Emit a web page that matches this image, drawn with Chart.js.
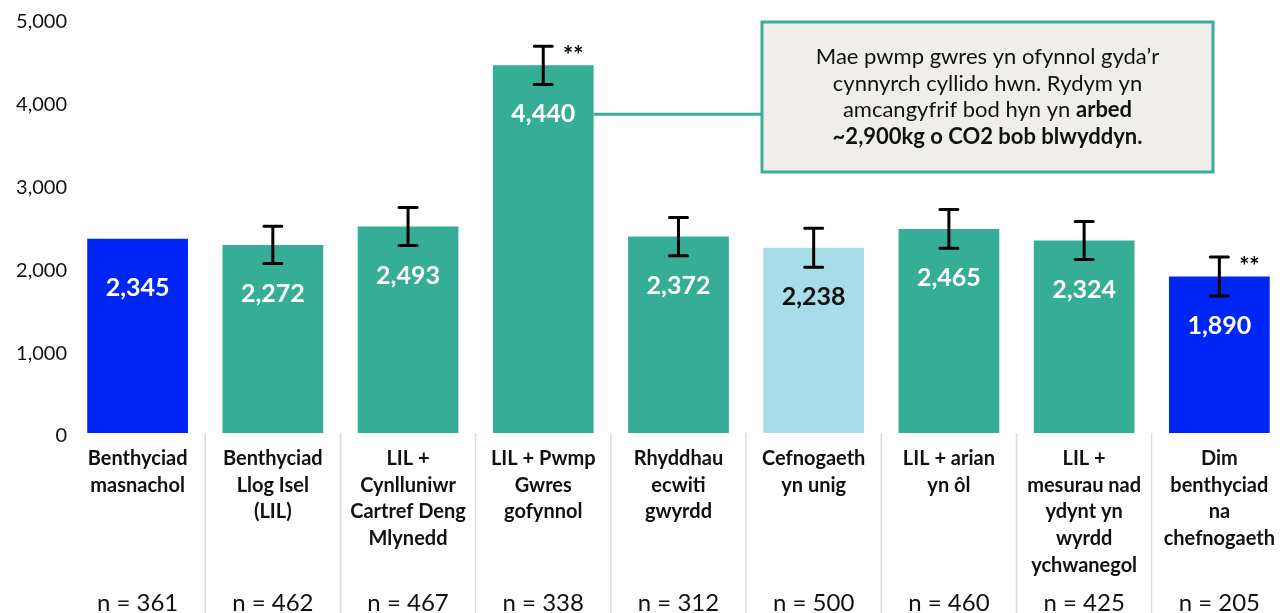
<!DOCTYPE html>
<html>
<head>
<meta charset="utf-8">
<script src="https://cdn.jsdelivr.net/npm/chart.js@4/dist/chart.umd.min.js"></script>
<style>
  html, body { margin: 0; padding: 0; background: #fff; overflow: hidden; }
  #wrap { width: 1287px; height: 613px; position: relative; }
</style>
</head>
<body>
<div id="wrap"><canvas id="costChart"></canvas></div>
<script>
/* data */
const categories = [
    ['Benthyciad', 'masnachol'],
    ['Benthyciad', 'Llog Isel', '(LIL)'],
    ['LIL +', 'Cynlluniwr', 'Cartref Deng', 'Mlynedd'],
    ['LIL + Pwmp', 'Gwres', 'gofynnol'],
    ['Rhyddhau', 'ecwiti', 'gwyrdd'],
    ['Cefnogaeth', 'yn unig'],
    ['LIL + arian', 'yn ôl'],
    ['LIL +', 'mesurau nad', 'ydynt yn', 'wyrdd', 'ychwanegol'],
    ['Dim', 'benthyciad', 'na', 'chefnogaeth']
];
const values = [2345, 2272, 2493, 4440, 2372, 2238, 2465, 2324, 1890];
const errors = [null, 225, 230, 230, 230, 235, 235, 230, 235];
const sampleSizes = [361, 462, 467, 338, 312, 500, 460, 425, 205];
const significant = [false, false, false, true, false, false, false, false, true];
const yTicks = [0, 1000, 2000, 3000, 4000, 5000];
const noteLines = [
    [['Mae pwmp gwres yn ofynnol gyda\u2019r', false]],
    [['cynnyrch cyllido hwn. Rydym yn', false]],
    [['amcangyfrif bod hyn yn ', false], ['arbed', true]],
    [['~2,900kg o CO2 bob blwyddyn.', true]]
];

const FONT = 'Lato, "Open Sans", sans-serif';
const TEAL = '#35ad97';
const BLUE = '#0026f5';
const LIGHT = '#a7dde8';
const barColors = [BLUE, TEAL, TEAL, TEAL, TEAL, LIGHT, TEAL, TEAL, BLUE];
const labelColors = ['#fff', '#fff', '#fff', '#fff', '#fff', '#111', '#fff', '#fff', '#fff'];

/* separators under the axis, between categories */
const separators = {
    id: 'separators',
    beforeDatasetsDraw(chart) {
        const x = chart.scales.x, ctx = chart.ctx;
        ctx.save();
        ctx.strokeStyle = '#e2dbd5';
        ctx.lineWidth = 1.5;
        for (let i = 0; i < categories.length - 1; i++) {
            const px = (x.getPixelForValue(i) + x.getPixelForValue(i + 1)) / 2;
            ctx.beginPath();
            ctx.moveTo(px, chart.chartArea.bottom);
            ctx.lineTo(px, chart.height);
            ctx.stroke();
        }
        ctx.restore();
    }
};

/* error bars, value labels, stars, n counts */
const extras = {
    id: 'extras',
    afterDatasetsDraw(chart) {
        const ctx = chart.ctx, x = chart.scales.x, y = chart.scales.y;
        const meta = chart.getDatasetMeta(0);
        ctx.save();
        meta.data.forEach((bar, i) => {
            const cx = bar.x;
            // value label
            ctx.fillStyle = labelColors[i];
            ctx.font = 'bold 25px ' + FONT;
            ctx.textAlign = 'center';
            ctx.textBaseline = 'middle';
            ctx.fillText(values[i].toLocaleString('en-GB'), cx, bar.y + 49);
            // error bar
            if (errors[i] != null) {
                const top = y.getPixelForValue(values[i] + errors[i]);
                const bot = y.getPixelForValue(values[i] - errors[i]);
                ctx.strokeStyle = '#000';
                ctx.lineWidth = 3;
                ctx.lineCap = 'round';
                ctx.beginPath();
                ctx.moveTo(cx, top); ctx.lineTo(cx, bot);
                ctx.moveTo(cx - 9, top); ctx.lineTo(cx + 9, top);
                ctx.moveTo(cx - 9, bot); ctx.lineTo(cx + 9, bot);
                ctx.stroke();
                if (significant[i]) {
                    ctx.fillStyle = '#000';
                    ctx.font = 'bold 24px ' + FONT;
                    ctx.fillText('**', cx + 30, top + 10);
                }
            }
            // sample size
            ctx.fillStyle = '#111';
            ctx.font = '24px ' + FONT;
            ctx.fillText('n = ' + sampleSizes[i], x.getPixelForValue(i), 603);
        });
        ctx.restore();
    }
};

/* note box linked to the heat pump bar */
const note = {
    id: 'note',
    afterDraw(chart) {
        const ctx = chart.ctx;
        const bar = chart.getDatasetMeta(0).data[3];
        const bx = 762, by = 22, bw = 451, bh = 150;
        ctx.save();
        ctx.strokeStyle = '#3aae98';
        ctx.lineWidth = 3;
        ctx.beginPath();
        ctx.moveTo(bar.x + bar.width / 2, bar.y + 49);
        ctx.lineTo(bx, bar.y + 49);
        ctx.stroke();
        ctx.fillStyle = '#f0eeea';
        ctx.fillRect(bx, by, bw, bh);
        ctx.strokeRect(bx, by, bw, bh);
        ctx.fillStyle = '#111';
        ctx.textBaseline = 'middle';
        ctx.textAlign = 'left';
        const cx = bx + bw / 2;
        noteLines.forEach((runs, li) => {
            let total = 0;
            runs.forEach(r => {
                ctx.font = (r[1] ? 'bold ' : '') + '22px ' + FONT;
                total += ctx.measureText(r[0]).width;
            });
            let px = cx - total / 2;
            runs.forEach(r => {
                ctx.font = (r[1] ? 'bold ' : '') + '22px ' + FONT;
                ctx.fillText(r[0], px, 57 + li * 26.7);
                px += ctx.measureText(r[0]).width;
            });
        });
        ctx.restore();
    }
};

const ctx1 = document.getElementById('costChart').getContext('2d');
const costChart = new Chart(ctx1, {
    type: 'bar',
    data: {
        labels: categories,
        datasets: [{
            data: values,
            backgroundColor: barColors,
            borderWidth: 0,
            barPercentage: 0.745,
            categoryPercentage: 1
        }]
    },
    options: {
        responsive: true,
        maintainAspectRatio: false,
        animation: false,
        layout: { padding: { top: 19, right: 0, left: 2, bottom: 0 } },
        scales: {
            x: {
                grid: { display: false, drawTicks: false },
                border: { display: false },
                ticks: {
                    color: '#111',
                    font: { family: FONT, size: 20, weight: 'bold', lineHeight: 1.34 },
                    padding: 12,
                    maxRotation: 0,
                    autoSkip: false
                },
                afterFit(scale) { scale.height = 180; }
            },
            y: {
                min: 0,
                max: 5000,
                afterBuildTicks(scale) { scale.ticks = yTicks.map(v => ({ value: v })); },
                grid: { display: false, drawTicks: false },
                border: { display: false },
                ticks: {
                    color: '#111',
                    font: { family: FONT, size: 20 },
                    padding: 3,
                    labelOffset: 3,
                    callback: v => v.toLocaleString('en-GB')
                },
                afterFit(scale) { scale.width = 68; }
            }
        },
        plugins: {
            legend: { display: false },
            tooltip: { enabled: false }
        }
    },
    plugins: [separators, extras, note]
});
</script>
</body>
</html>
